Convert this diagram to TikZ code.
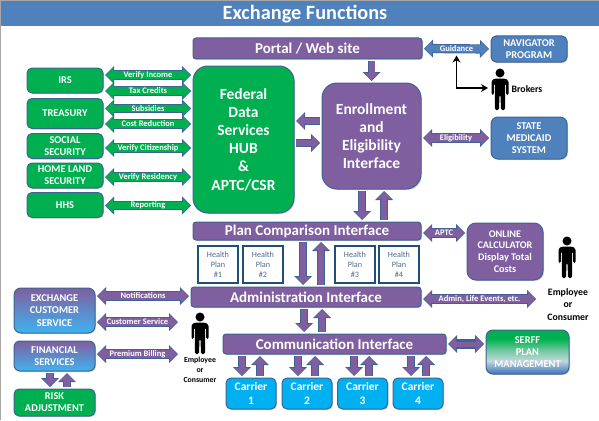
\documentclass[tikz,border=0pt]{standalone}
\usepackage{fontspec}
\setmainfont{Carlito}
\usepackage{xcolor}
\usetikzlibrary{arrows.meta}
\usetikzlibrary{shadows}
\definecolor{xblue}{HTML}{4F81BD}
\definecolor{xpurple}{HTML}{7F5F9F}
\definecolor{xgreen}{HTML}{00B050}
\definecolor{xcyan}{HTML}{00B0F0}
\definecolor{xedge}{HTML}{3F6294}
\definecolor{xplan}{HTML}{1F4E79}
\definecolor{xplantext}{HTML}{4F6A8F}
\definecolor{xlilac}{HTML}{A79CCF}
\definecolor{xsky}{HTML}{3FB3F0}
\definecolor{xpale}{HTML}{C4D6DC}
\definecolor{xmint}{HTML}{70C8A0}
\newcommand{\fsize}[2]{\fontsize{#1}{#2}\selectfont}
\pgfdeclareverticalshading{serffshade}{100bp}{color(0bp)=(xblue); color(27bp)=(xblue); color(40bp)=(xpale); color(52bp)=(xmint); color(65bp)=(xgreen); color(100bp)=(xgreen)}
\tikzset{
  fathead/.tip={Triangle[length=7pt,width=14.5pt,line width=0pt]},
  fatout/.tip={Triangle[length=9pt,width=18pt,line width=0pt]},
  box/.style={draw=xedge,line width=1pt,rounded corners=5pt,align=center,text=white,inner sep=0pt,outer sep=2pt,
    font=\bfseries\fsize{10.4}{12.2},drop shadow={opacity=.3,shadow xshift=1pt,shadow yshift=-1pt}},
  size/.style 2 args={minimum width=#1,minimum height=#2},
  greenbox/.style={box,fill=xgreen},
  bluebox/.style={box,fill=xblue},
  purplebox/.style={box,fill=xpurple},
  cyanbox/.style={box,fill=xcyan,font=\bfseries\fsize{11.5}{14}},
  bar/.style={purplebox,rounded corners=3pt,font=\bfseries\fsize{15}{16}},
  bigbox/.style={rounded corners=15pt,font=\bfseries\fsize{15.5}{18.2}},
  fadebox/.style={box,top color=xpurple,middle color=xlilac,bottom color=xsky},
  planbox/.style={draw=xplan,line width=1.2pt,fill=white,align=center,text=xplantext,inner sep=0pt,
    font=\fsize{8.2}{10},size={40pt}{37pt}},
  fatboth/.style={line width=7.5pt,draw=#1,arrows=fathead-fathead,shorten >=1pt,shorten <=1pt,
    preaction={draw=xedge,line width=9.2pt,arrows=fatout-fatout,shorten >=0pt,shorten <=0pt}},
  fatone/.style={line width=6pt,draw=xpurple,arrows=-fathead,shorten >=1pt,
    preaction={draw=xedge,line width=7.6pt,arrows=-fatout,shorten >=0pt}},
  flabel/.style={text=white,inner sep=0pt,font=\bfseries\fsize{8.5}{9}},
  person/.pic={
    \fill[black] (0,5) circle (4.5);
    \fill[black,rounded corners=1.5pt] (-5,10.5) -- (5,10.5) -- (8.5,12.5) -- (8.5,27) -- (6.2,27) -- (6.2,15.5) -- (5.2,15.5)
      -- (5.2,42) -- (0.9,42) -- (0.6,27) -- (-0.6,27) -- (-0.9,42) -- (-5.2,42) -- (-5.2,15.5) -- (-6.2,15.5) -- (-6.2,27) -- (-8.5,27) -- (-8.5,12.5) -- cycle;
    \coordinate (-west) at (-12,20);
  }
}
\begin{document}
\begin{tikzpicture}[x=1pt,y=-1pt]
\useasboundingbox (0,0) rectangle (599,420);
\draw[gray!70,line width=1pt] (0.5,420) -- (0.5,0.5) -- (599,0.5);
% title
\fill[xblue] (1,1) rectangle (599,26);
\node[inner sep=0pt,text=white,font=\bfseries\fsize{20.3}{22}] (title) at (305,14.5) {Exchange Functions};
% federal sources
\node[greenbox,size={76pt}{25pt}] (irs) at (65,80.5) {IRS};
\node[greenbox,size={76pt}{30pt}] (treasury) at (65,113.5) {TREASURY};
\node[greenbox,size={76pt}{25pt}] (social) at (65,146) {SOCIAL\\SECURITY};
\node[greenbox,size={76pt}{25pt}] (homeland) at (65,175.5) {HOME LAND\\SECURITY};
\node[greenbox,size={76pt}{25pt}] (hhs) at (65,205) {HHS};
% centre
\node[bar,size={229pt}{21pt}] (portal) at (307.5,48.5) {Portal / Web site};
\node[greenbox,bigbox,size={101pt}{147pt}] (hub) at (243.5,139.5) {Federal\\Data\\Services\\HUB\\\&\\APTC/CSR};
\node[purplebox,bigbox,size={99pt}{106pt}] (enroll) at (371.5,136) {Enrollment\\and\\Eligibility\\Interface};
\node[bar,size={228pt}{18pt}] (plancomp) at (307,231) {Plan Comparison Interface};
\node[bar,size={230pt}{20pt}] (admin) at (306,297) {Administration Interface};
\node[bar,size={223pt}{20pt}] (comm) at (334.5,344) {Communication Interface};
\node[planbox] (plan1) at (218,264.5) {Health\\Plan\\\#1};
\node[planbox] (plan2) at (263,264.5) {Health\\Plan\\\#2};
\node[planbox] (plan3) at (355,264.5) {Health\\Plan\\\#3};
\node[planbox] (plan4) at (399,264.5) {Health\\Plan\\\#4};
% right side
\node[bluebox,size={76pt}{26pt}] (navigator) at (529,49) {NAVIGATOR\\PROGRAM};
\node[bluebox,size={76pt}{42pt},rounded corners=7pt] (medicaid) at (529,138) {STATE\\MEDICAID\\SYSTEM};
\node[purplebox,size={76pt}{57pt},rounded corners=9pt,font=\bfseries\fsize{10.2}{11.8}] (calc) at (505,251.5) {ONLINE\\CALCULATOR\\Display Total\\Costs};
\node[box,size={83pt}{44pt},rounded corners=7pt,shading=serffshade] (serff) at (527.5,352) {SERFF\\PLAN\\MANAGEMENT};
% left side
\node[fadebox,size={81pt}{45pt},rounded corners=7pt] (custserv) at (54.5,310.5) {EXCHANGE\\CUSTOMER\\SERVICE};
\node[fadebox,size={81pt}{30pt},rounded corners=6pt] (finance) at (54.5,356) {FINANCIAL\\SERVICES};
\node[greenbox,size={81pt}{27pt}] (risk) at (54.5,402.5) {RISK\\ADJUSTMENT};
% carriers
\node[cyanbox,size={50pt}{31pt}] (carrier1) at (251,393.5) {Carrier\\1};
\node[cyanbox,size={50pt}{31pt}] (carrier2) at (307,393.5) {Carrier\\2};
\node[cyanbox,size={50pt}{31pt}] (carrier3) at (362.5,393.5) {Carrier\\3};
\node[cyanbox,size={50pt}{31pt}] (carrier4) at (418,393.5) {Carrier\\4};
% people
\pic (broker) at (500,68) {person};
\pic (employeea) at (200,312) {person};
\pic (employeeb) at (567,236) {person};
\node[inner sep=0pt,font=\bfseries\fsize{9.8}{10}] (brokerlbl) at (527,89.5) {Brokers};
\node[inner sep=0pt,align=center,font=\bfseries\fsize{7.8}{10}] (employeealbl) at (200,370) {Employee\\or\\Consumer};
\node[inner sep=0pt,align=center,font=\bfseries\fsize{9.8}{12.4}] (employeeblbl) at (568,304.5) {Employee\\or\\Consumer};
\coordinate (custend) at (178,322);
\coordinate (billend) at (178,354);
\coordinate (lifeend) at (536,299);
% green arrows
\draw[fatboth=xgreen] (irs.east |- 0,75) -- node[flabel] {Verify Income} (hub.west |- 0,75);
\draw[fatboth=xgreen] (irs.east |- 0,91) -- node[flabel] {Tax Credits} (hub.west |- 0,91);
\draw[fatboth=xgreen] (treasury.east |- 0,108.5) -- node[flabel] {Subsidies} (hub.west |- 0,108.5);
\draw[fatboth=xgreen] (treasury.east |- 0,124) -- node[flabel] {Cost Reduction} (hub.west |- 0,124);
\draw[fatboth=xgreen] (social.east |- 0,148) -- node[flabel] {Verify Citizenship} (hub.west |- 0,148);
\draw[fatboth=xgreen] (homeland.east |- 0,177) -- node[flabel] {Verify Residency} (hub.west |- 0,177);
\draw[fatboth=xgreen] (hhs.east |- 0,205.5) -- node[flabel] {Reporting} (hub.west |- 0,205.5);
% labelled arrows
\draw[fatboth=xblue] (portal.east) -- node[flabel] (guidance) {Guidance} (navigator.west);
\draw[fatboth=xpurple] (enroll.east |- medicaid.west) -- node[flabel] {Eligibility} (medicaid.west);
\draw[fatboth=xpurple] (plancomp.east |- 0,233) -- node[flabel] {APTC} (calc.west |- 0,233);
\draw[fatboth=xpurple] (admin.east |- 0,299) -- node[flabel] {Admin, Life Events, etc.} (lifeend);
\draw[fatboth=xpurple] (custserv.east |- 0,296) -- node[flabel] {Notifications} (admin.west |- 0,296);
\draw[fatboth=xpurple] (custserv.east |- custend) -- node[flabel] {Customer Service} (custend);
\draw[fatboth=xpurple] (finance.east |- billend) -- node[flabel] {Premium Billing} (billend);
\draw[fatone] (enroll.west |- 0,121) -- (hub.east |- 0,121);
\draw[fatone] (hub.east |- 0,143) -- (enroll.west |- 0,143);
\draw[fatone] (portal.south -| enroll.north) -- (enroll.north);
\draw[fatone] (enroll.south -| 362,0) -- (plancomp.north -| 362,0);
\draw[fatone] (plancomp.north -| 384,0) -- (enroll.south -| 384,0);
\draw[fatone] (plancomp.south -| 303,0) -- (admin.north -| 303,0);
\draw[fatone] (admin.north -| 321,0) -- (plancomp.south -| 321,0);
\draw[fatone] (admin.south -| 304,0) -- (comm.north -| 304,0);
\draw[fatone] (comm.north -| 322,0) -- (admin.south -| 322,0);
\draw[fatone] (finance.south -| 50,0) -- (risk.north -| 50,0);
\draw[fatone] (risk.north -| 67,0) -- (finance.south -| 67,0);
\foreach \n/\xa/\xb in {1/242/260,2/298/315,3/354/369,4/411/426}{
  \draw[fatone] (comm.south -| \xa,0) -- (carrier\n.north -| \xa,0);
  \draw[fatone] (carrier\n.north -| \xb,0) -- (comm.south -| \xb,0);
}
\draw[fatboth=xpurple,line width=5pt] (comm.east) -- (serff.west |- comm.east);
% broker link
\draw[line width=1.8pt,arrows={Stealth[length=7pt,width=8pt]-Stealth[length=7pt,width=8pt]}] (guidance.south) |- (broker-west);
\end{tikzpicture}
\end{document}
